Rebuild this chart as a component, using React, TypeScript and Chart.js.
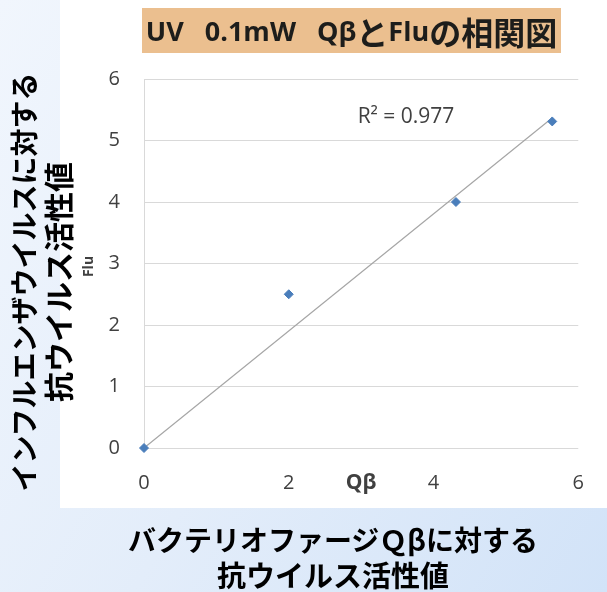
import React, { useEffect, useRef } from "react";
import { Chart, registerables } from "chart.js";

Chart.register(...registerables);

// ---- data ----
const qbValues = [0, 2.0, 4.31, 5.64];
const fluValues = [0, 2.5, 4.0, 5.31];
const trendQb = [0, 5.6];
const trendFlu = [0, 5.33];
const xTickValues = [0, 2, 4, 6];
const yTickValues = [0, 1, 2, 3, 4, 5, 6];
const rSquaredLabel = "R² = 0.977";
const xAxisTitle = "Qβ";
const yAxisTitle = "Flu";
const yOuterLines = ["インフルエンザウイルスに対する", "抗ウイルス活性値"];
const xOuterLines = ["バクテリオファージＱβに対する", "抗ウイルス活性値"];

const LATIN = "'Open Sans', 'Liberation Sans', sans-serif";
const CJK = "'Noto Sans CJK JP', sans-serif";
const TICK_COLOR = "#404040";

const labelPlugin = {
  id: "innerLabels",
  afterDraw(chart: any) {
    const { ctx, chartArea, scales } = chart;
    ctx.save();
    ctx.fillStyle = TICK_COLOR;
    ctx.textAlign = "center";
    ctx.textBaseline = "middle";
    ctx.font = `bold 21px ${LATIN}`;
    ctx.fillText(xAxisTitle, scales.x.getPixelForValue(3), chartArea.bottom + 35);
    ctx.font = `21px ${LATIN}`;
    ctx.fillText(rSquaredLabel, scales.x.getPixelForValue(3.62), scales.y.getPixelForValue(5.38));
    ctx.translate(29, (chartArea.top + chartArea.bottom) / 2 + 3);
    ctx.rotate(-Math.PI / 2);
    ctx.font = `bold 14px ${LATIN}`;
    ctx.fillText(yAxisTitle, 0, 0);
    ctx.restore();
  },
};

function App() {
  const canvasRef = useRef<HTMLCanvasElement | null>(null);

  useEffect(() => {
    if (!canvasRef.current) return;
    const chart = new Chart(canvasRef.current, {
      type: "scatter",
      data: {
        datasets: [
          {
            label: "data",
            data: qbValues.map((x, i) => ({ x, y: fluValues[i] })),
            pointStyle: "rectRot",
            pointRadius: 4.5,
            backgroundColor: "#4a7ebb",
            borderColor: "#4a7ebb",
            borderWidth: 1,
            clip: false,
            order: 1,
          } as any,
          {
            label: "trend",
            data: trendQb.map((x, i) => ({ x, y: trendFlu[i] })),
            showLine: true,
            pointRadius: 0,
            borderColor: "#a6a6a6",
            borderWidth: 1.2,
            clip: false,
            order: 2,
          } as any,
        ],
      },
      options: {
        animation: false,
        responsive: false,
        events: [],
        layout: { padding: { top: 79, right: 28, left: 0, bottom: 0 } },
        plugins: { legend: { display: false }, tooltip: { enabled: false }, title: { display: false } },
        scales: {
          x: {
            type: "linear",
            min: 0,
            max: 6,
            afterBuildTicks: (s: any) => {
              s.ticks = xTickValues.map((v) => ({ value: v }));
            },
            afterFit: (s: any) => {
              s.height = 60;
            },
            grid: { display: false, drawTicks: false },
            border: { display: false },
            ticks: { color: TICK_COLOR, font: { family: LATIN, size: 20 }, padding: 23, maxRotation: 0 },
          },
          y: {
            type: "linear",
            min: 0,
            max: 6,
            afterBuildTicks: (s: any) => {
              s.ticks = yTickValues.map((v) => ({ value: v }));
            },
            afterFit: (s: any) => {
              s.width = 84;
            },
            grid: { color: "#d9d9d9", drawTicks: false, lineWidth: 1 },
            border: { display: true, color: "#d9d9d9" },
            ticks: { color: TICK_COLOR, font: { family: LATIN, size: 20 }, padding: 24 },
          },
        },
      } as any,
      plugins: [labelPlugin],
    });
    return () => chart.destroy();
  }, []);

  const boldCjk: React.CSSProperties = { fontFamily: CJK, fontWeight: 700, color: "#000", whiteSpace: "nowrap" };

  return (
    <div
      style={{
        position: "fixed",
        left: 0,
        top: 0,
        width: 607,
        height: 592,
        overflow: "hidden",
        background: "linear-gradient(120deg, #f1f6fd 0%, #e3edfa 50%, #d2e3f8 100%)",
      }}
    >
      <div style={{ position: "absolute", left: 60, top: 0, width: 547, height: 508, background: "#ffffff" }} />
      <canvas
        ref={canvasRef}
        width={547}
        height={508}
        style={{ position: "absolute", left: 60, top: 0, width: 547, height: 508 }}
      />
      <div
        style={{
          position: "absolute",
          left: 142,
          top: 8,
          width: 419,
          height: 45,
          background: "#ebbf8f",
          display: "flex",
          alignItems: "center",
          justifyContent: "center",
          color: "#1d1d1b",
          fontWeight: 700,
          whiteSpace: "pre",
          lineHeight: 1,
        }}
      >
        <span style={{ fontFamily: LATIN, fontSize: 27 }}>{"UV   0.1mW   Qβ"}</span>
        <span style={{ fontFamily: CJK, fontSize: 32 }}>と</span>
        <span style={{ fontFamily: LATIN, fontSize: 27 }}>Flu</span>
        <span style={{ fontFamily: CJK, fontSize: 32 }}>の相関図</span>
      </div>
      <div
        style={{
          position: "absolute",
          left: 40 - 250,
          top: 282 - 34,
          width: 500,
          height: 68,
          transform: "rotate(-90deg)",
          textAlign: "center",
          lineHeight: "34px",
          ...boldCjk,
        }}
      >
        <div style={{ fontSize: 28 }}>{yOuterLines[0]}</div>
        <div style={{ fontSize: 30 }}>{yOuterLines[1]}</div>
      </div>
      <div
        style={{
          position: "absolute",
          left: 33,
          top: 522,
          width: 600,
          textAlign: "center",
          lineHeight: "35px",
          ...boldCjk,
        }}
      >
        <div style={{ fontSize: 28 }}>{xOuterLines[0]}</div>
        <div style={{ fontSize: 29 }}>{xOuterLines[1]}</div>
      </div>
    </div>
  );
}

export default App;
